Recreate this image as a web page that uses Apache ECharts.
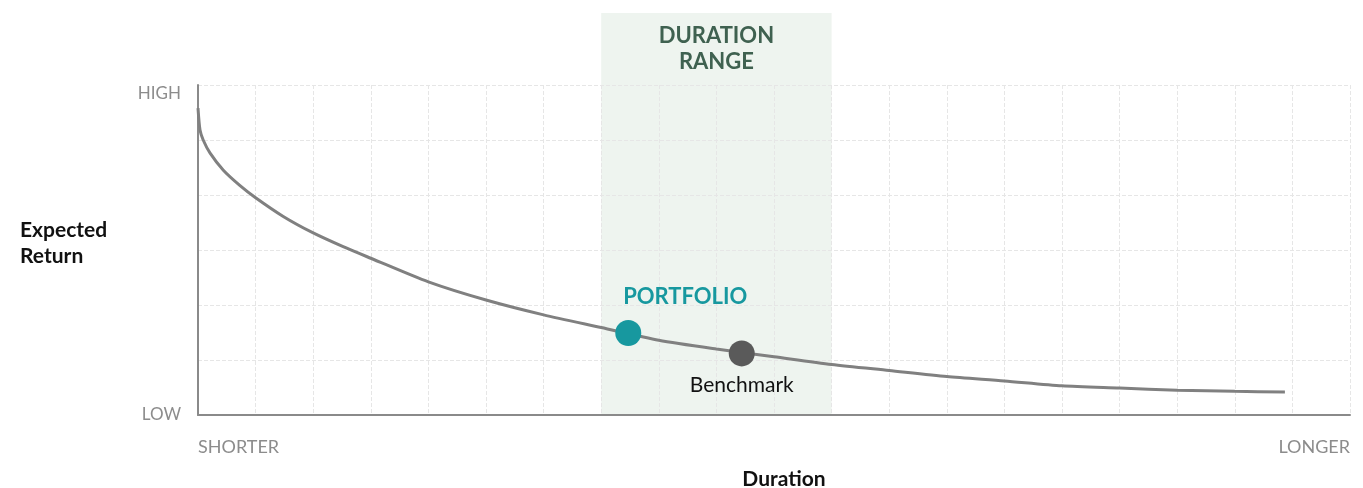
<!DOCTYPE html>
<html>
<head>
<meta charset="utf-8">
<script src="https://cdn.jsdelivr.net/npm/echarts@6/dist/echarts.min.js"></script>
<style>
  html, body { margin: 0; padding: 0; background: #fff; }
  #chart { width: 1363px; height: 488px; }
</style>
</head>
<body>
<div id="chart"></div>
<script>
// curve: duration (x) vs expected return (y)
var durations = [0, 0.035, 0.09, 0.21, 0.44, 0.73, 1, 1.48, 2, 2.52, 3, 4, 5, 6, 7, 8, 9, 10, 11, 12, 13, 14, 15, 16, 17, 18, 18.87];
var returns = [5.58, 5.18, 5.0, 4.76, 4.45, 4.17, 3.95, 3.61, 3.31, 3.06, 2.85, 2.42, 2.09, 1.82, 1.59, 1.36, 1.20, 1.06, 0.92, 0.81, 0.70, 0.62, 0.53, 0.49, 0.45, 0.43, 0.42];

var portfolioPoint = [7.47, 1.49];
var benchmarkPoint = [9.44, 1.12];
var durationRange = [7, 11];

var xTickLabels = { 0: "SHORTER", 20: "LONGER" };
var yTickLabels = { 0: "LOW", 6: "HIGH" };

var FONT = "Lato, 'Open Sans', sans-serif";

var curve = durations.map(function (d, i) { return [d, returns[i]]; });

var chart = echarts.init(document.getElementById("chart"));
chart.setOption({
  animation: false,
  grid: [
    { left: 198, right: 13, top: 85, bottom: 73, outerBoundsMode: "none", containLabel: false },
    { left: 198, right: 13, top: 13, bottom: 73, outerBoundsMode: "none", containLabel: false }
  ],
  xAxis: [{
    type: "value", min: 0, max: 20, interval: 1, gridIndex: 0,
    name: "Duration", nameLocation: "middle", nameGap: 54,
    nameTextStyle: { fontFamily: FONT, fontWeight: "bold", fontSize: 21, color: "#111", padding: [0, 0, 0, 20] },
    axisLine: { lineStyle: { color: "#8a8a8a", width: 2 } },
    axisTick: { show: false },
    splitLine: { lineStyle: { color: "#e6e6e6", type: "dashed", width: 1 } },
    axisLabel: {
      margin: 23, fontFamily: FONT, fontSize: 18, color: "#8c8c8c",
      alignMinLabel: "left", alignMaxLabel: "right",
      formatter: function (v) { return xTickLabels[v] || ""; }
    }
  }, {
    type: "value", min: 0, max: 20, gridIndex: 1, show: false
  }],
  yAxis: [{
    type: "value", min: 0, max: 6, interval: 1, gridIndex: 0,
    name: "{l|Expected}\n{p|Return}", nameLocation: "middle", nameGap: 178, nameRotate: 0,
    nameTextStyle: {
      fontFamily: FONT, fontWeight: "bold", fontSize: 21, color: "#111", align: "left",
      rich: {
        l: { fontFamily: FONT, fontWeight: "bold", fontSize: 21, color: "#111", height: 26 },
        p: { fontFamily: FONT, fontWeight: "bold", fontSize: 21, color: "#111", height: 26, padding: [0, 0, 14, 0] }
      }
    },
    axisLine: { show: true, lineStyle: { color: "#8a8a8a", width: 2 } },
    axisTick: { show: false },
    splitLine: { lineStyle: { color: "#e6e6e6", type: "dashed", width: 1 } },
    axisLabel: {
      margin: 17, fontFamily: FONT, fontSize: 17, color: "#8c8c8c",
      verticalAlignMaxLabel: "top",
      formatter: function (v) { return yTickLabels[v] || ""; }
    }
  }, {
    type: "value", min: 0, max: 1, gridIndex: 1, show: false
  }],
  series: [{
    type: "line", xAxisIndex: 1, yAxisIndex: 1, z: -1,
    data: [[durationRange[0], 0], [durationRange[1], 0]],
    symbol: "none", lineStyle: { opacity: 0 }, silent: true,
    markArea: {
      silent: true, z: -1,
      itemStyle: { color: "#eef4ef" },
      label: {
        show: true, position: "insideTop", distance: 10,
        formatter: "DURATION\nRANGE",
        fontFamily: FONT, fontWeight: "bold", fontSize: 22, lineHeight: 26, color: "#3f6150"
      },
      data: [[{ xAxis: durationRange[0] }, { xAxis: durationRange[1] }]]
    }
  }, {
    type: "line", data: curve, smooth: 0.25, symbol: "none",
    lineStyle: { color: "#808080", width: 3 }
  }, {
    type: "scatter", data: [portfolioPoint], symbolSize: 26, z: 5,
    itemStyle: { color: "#17989f", opacity: 1 },
    label: {
      show: true, position: "top", distance: 12, offset: [57, 0],
      formatter: "PORTFOLIO", fontFamily: FONT, fontWeight: "bold", fontSize: 22, color: "#17989f"
    }
  }, {
    type: "scatter", data: [benchmarkPoint], symbolSize: 26, z: 5,
    itemStyle: { color: "#5a5a5a", opacity: 1 },
    label: {
      show: true, position: "bottom", distance: 8,
      formatter: "Benchmark", fontFamily: FONT, fontSize: 21, color: "#111"
    }
  }]
});
</script>
</body>
</html>
